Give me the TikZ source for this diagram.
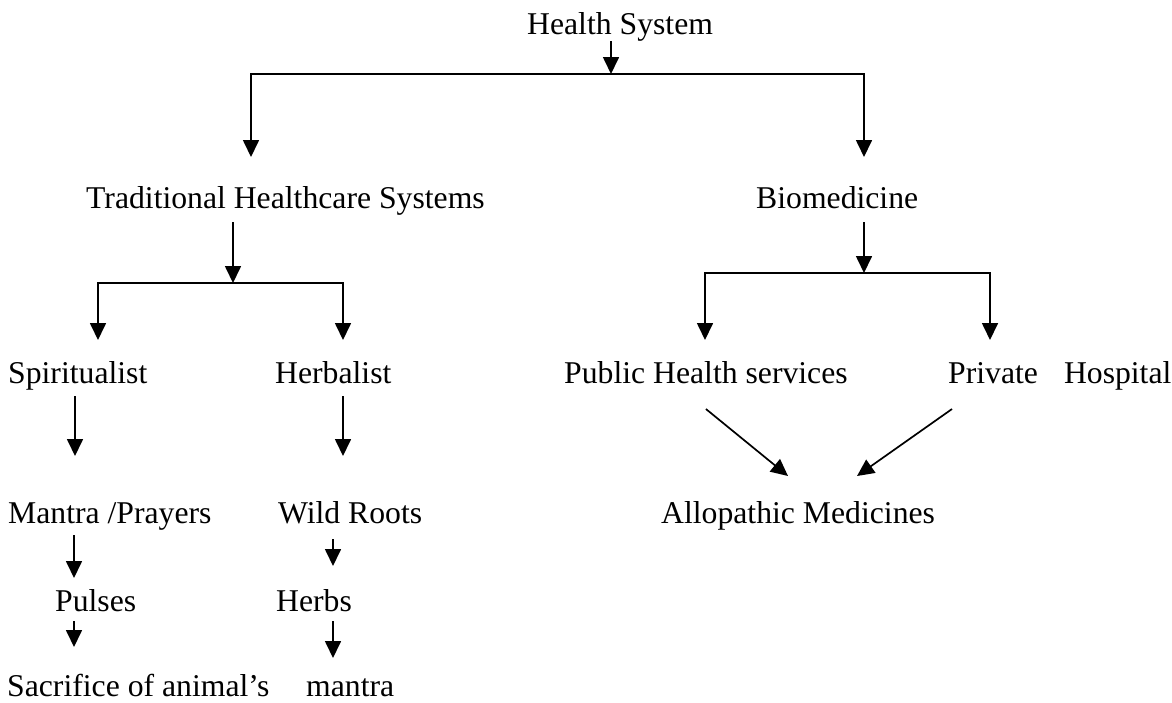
\documentclass[tikz,border=0pt]{standalone}
\usepackage{fontspec}
\setmainfont{Liberation Serif}
\usetikzlibrary{arrows.meta}
\begin{document}
\begin{tikzpicture}[x=1pt,y=-1pt,
  txt/.style={inner sep=0pt, anchor=base west, font=\fontsize{31.7}{38}\selectfont},
  conn/.style={line width=1.7pt, line join=miter},
  tip/.tip={Triangle[width=16pt,length=17pt]},
  arr/.style={conn, -tip},
  fork/.style={conn, tip-tip}]
\useasboundingbox (0,0) rectangle (1172,702);

% labels
\node[txt] (hs)    at (527,34)  {Health System};
\node[txt] (trad)  at (86,208)  {Traditional Healthcare Systems};
\node[txt] (bio)   at (756,208) {Biomedicine};
\node[txt] (spir)  at (8,383)   {Spiritualist};
\node[txt] (herb)  at (275,383) {Herbalist};
\node[txt] (pub)   at (564,383) {Public Health services};
\node[txt] (priv)  at (948,383) {Private\hspace{26pt}Hospital};
\node[txt] (mant)  at (8,523)   {Mantra /Prayers};
\node[txt] (wild)  at (278,523) {Wild Roots};
\node[txt] (allo)  at (661,523) {Allopathic Medicines};
\node[txt] (pul)   at (55,611)  {Pulses};
\node[txt] (herbs) at (276,611) {Herbs};
\node[txt] (sac)   at (7,696)   {Sacrifice of animal’s};
\node[txt] (mtr)   at (306,696) {mantra};

% junctions and arrow tips
\coordinate (hsJ)  at (611,74);
\coordinate (trJ)  at (251,74);
\coordinate (biJ)  at (864,74);
\coordinate (trT)  at (251,157);
\coordinate (biT)  at (864,157);

\coordinate (tJ)   at (233,283);
\coordinate (spJ)  at (98,283);
\coordinate (hbJ)  at (343,283);
\coordinate (spT)  at (98,340);
\coordinate (hbT)  at (343,340);

\coordinate (bJ)   at (864,273);
\coordinate (pbJ)  at (705,273);
\coordinate (pvJ)  at (990,273);
\coordinate (pbT)  at (705,340);
\coordinate (pvT)  at (990,340);

\coordinate (spA)  at (75,456);
\coordinate (hbA)  at (343,456);
\coordinate (alL)  at (788,476);
\coordinate (alR)  at (857,476);
\coordinate (mA)   at (74,578);
\coordinate (wA)   at (333,566);
\coordinate (pA)   at (74,647);
\coordinate (hA)   at (333,658);

% Health System splits in two
\draw[arr]  ([yshift=-7pt]hs.base -| hsJ) -- (hsJ);
\draw[fork] (trT) -- (trJ) -- (biJ) -- (biT);

% traditional branch
\draw[arr]  ([yshift=-14pt]trad.base -| tJ) -- (tJ);
\draw[fork] (spT) -- (spJ) -- (hbJ) -- (hbT);

% biomedicine branch
\draw[arr]  ([yshift=-14pt]bio.base -| bJ) -- (bJ);
\draw[fork] (pbT) -- (pbJ) -- (pvJ) -- (pvT);

% lower chains
\draw[arr] ([yshift=-13pt]spir.base -| spA) -- (spA);
\draw[arr] ([yshift=-13pt]herb.base -| hbA) -- (hbA);
\draw[arr] ([yshift=-26pt]pub.base) -- (alL);
\draw[arr] ([xshift=4pt,yshift=-26pt]priv.base west) -- (alR);
\draw[arr] ([yshift=-12pt]mant.base -| mA) -- (mA);
\draw[arr] ([yshift=-16pt]wild.base -| wA) -- (wA);
\draw[arr] ([yshift=-10pt]pul.base -| pA) -- (pA);
\draw[arr] ([yshift=-10pt]herbs.base -| hA) -- (hA);
\end{tikzpicture}
\end{document}
